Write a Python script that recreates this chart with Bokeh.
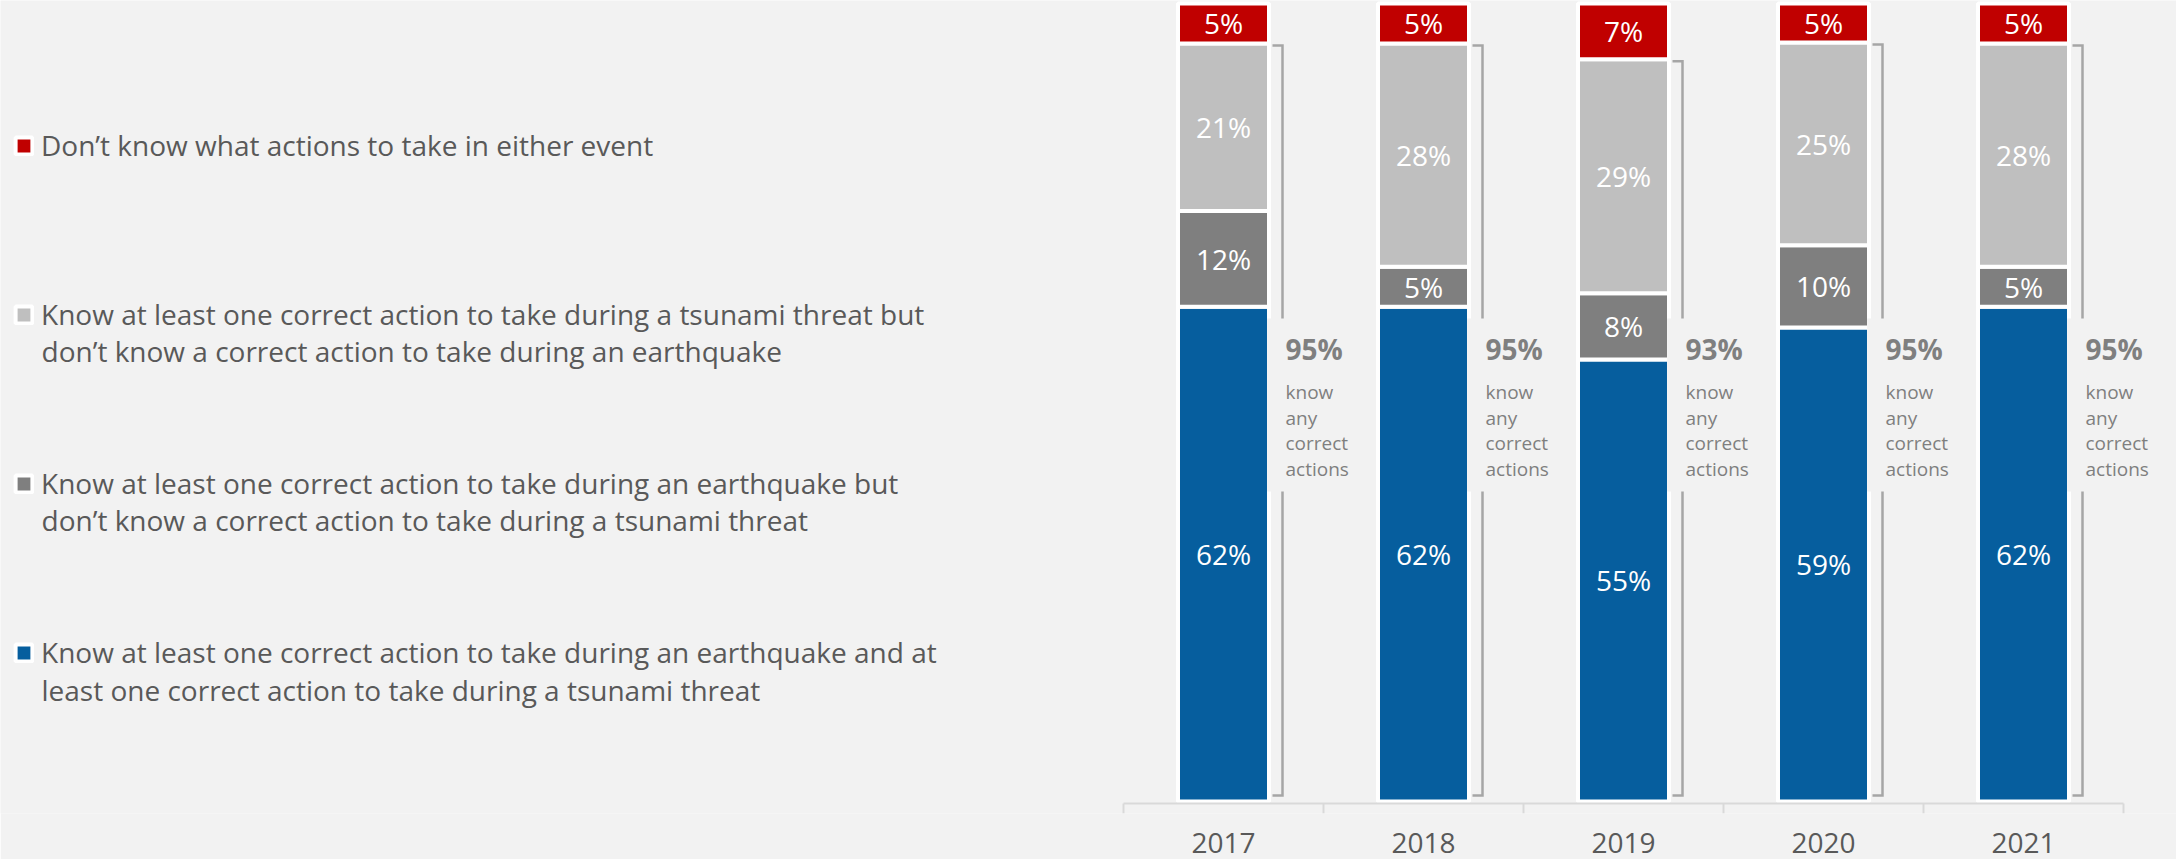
from bokeh.plotting import figure
from bokeh.models import ColumnDataSource, Range1d, FixedTicker, Legend, LegendItem
from bokeh.core.properties import value
from bokeh.embed import file_html
from bokeh.resources import INLINE

# ---------------- data ----------------
years = ["2017", "2018", "2019", "2020", "2021"]
both = [62.0, 62.0, 55.4, 59.4, 62.0]          # know for earthquake and tsunami
quake_only = [12.0, 5.0, 8.3, 10.3, 5.0]       # earthquake only
tsunami_only = [21.0, 28.0, 29.3, 25.4, 28.0]  # tsunami only
dont_know = [5.0, 5.0, 7.0, 4.9, 5.0]          # don't know either

series_keys = ["both", "quake_only", "tsunami_only", "dont_know"]
series_names = [
    "Know at least one correct action to take during an earthquake and at\nleast one correct action to take during a tsunami threat",
    "Know at least one correct action to take during an earthquake but\ndon\u2019t know a correct action to take during a tsunami threat",
    "Know at least one correct action to take during a tsunami threat but\ndon\u2019t know a correct action to take during an earthquake",
    "Don\u2019t know what actions to take in either event",
]
colors = ["#065e9e", "#7f7f7f", "#bfbfbf", "#c00000"]
summary_words = "know\nany\ncorrect\nactions"

FONT = "Open Sans"
BG = "#f2f2f2"
W, H = 2176, 859

idx = list(range(len(years)))
n = len(years)

# layout in pixels -> data coordinates
X0_PX, CAT_PX = 1123, 200           # left edge of first category, width of a category
Y0_PX, UNIT_PX, FRAME_H = 801, 7.98, 813


def xd(px):
    return -0.5 + (px - X0_PX) / CAT_PX


def yd(py):
    return (Y0_PX - py) / UNIT_PX


src = ColumnDataSource(dict(x=idx, both=both, quake_only=quake_only,
                            tsunami_only=tsunami_only, dont_know=dont_know))

p = figure(width=W, height=H, output_backend="svg", toolbar_location=None,
           x_range=Range1d(xd(0), xd(W)), y_range=Range1d(yd(FRAME_H), yd(0)),
           min_border_left=0, min_border_right=0, min_border_top=0,
           min_border_bottom=H - FRAME_H, y_axis_location=None)
p.background_fill_color = BG
p.border_fill_color = BG
p.outline_line_color = None
p.grid.visible = False

renderers = p.vbar_stack(series_keys, x="x", width=0.455, source=src,
                         fill_color=colors, line_color="white", line_width=4)

# category axis line and boundary ticks
axis_y = yd(803)
p.segment(x0=[-0.5], x1=[n - 0.5], y0=[axis_y], y1=[axis_y], line_color="#d9d9d9", line_width=2)
bounds = [i - 0.5 for i in range(n + 1)]
p.segment(x0=bounds, x1=bounds, y0=[axis_y] * (n + 1), y1=[yd(FRAME_H)] * (n + 1),
          line_color="#d9d9d9", line_width=2)

# segment labels
lx, ly, lt = [], [], []
for i in idx:
    base = 0.0
    for vals in (both, quake_only, tsunami_only, dont_know):
        v = vals[i]
        lx.append(i)
        ly.append(base + v / 2)
        lt.append(f"{v:.0f}%")
        base += v
p.text(x=lx, y=ly, text=lt, text_align="center", text_baseline="middle",
       text_color="white", text_font=value(FONT), text_font_size="28px")

# brackets for "know any correct actions"
totals = [b + q + t for b, q, t in zip(both, quake_only, tsunami_only)]
bx, by = [], []
for i, tot in zip(idx, totals):
    bx.append([i + 0.245, i + 0.295, i + 0.295, i + 0.245])
    by.append([tot - 0.25, tot - 0.25, 0.75, 0.75])
p.multi_line(xs=bx, ys=by, line_color="#a6a6a6", line_width=2.5, line_join="miter")

# background box behind summary text (hides bracket middle)
p.quad(left=[i + 0.2185 for i in idx], right=[i + 0.47 for i in idx],
       bottom=[yd(491)] * n, top=[yd(318)] * n, fill_color=BG, line_color=None)

p.text(x=[i + 0.31 for i in idx], y=[yd(348)] * n,
       text=[f"{t:.0f}%" for t in totals], text_align="left", text_baseline="middle",
       text_color="#7f7f7f", text_font=value(FONT), text_font_size="28px",
       text_font_style="bold")
p.text(x=[i + 0.31 for i in idx], y=[yd(430)] * n,
       text=[summary_words] * n, text_align="left", text_baseline="middle",
       text_color="#7f7f7f", text_font=value(FONT), text_font_size="19px",
       text_line_height=0.98)

# x axis (labels only)
ax = p.xaxis[0]
ax.ticker = FixedTicker(ticks=idx)
ax.major_label_overrides = {i: y for i, y in zip(idx, years)}
ax.axis_line_color = None
ax.major_tick_line_color = None
ax.minor_tick_line_color = None
ax.major_tick_out = 0
ax.major_tick_in = 0
ax.major_label_standoff = 19
ax.major_label_text_font = FONT
ax.major_label_text_font_size = "28px"
ax.major_label_text_color = "#595959"

# legend: first line of each series name next to its swatch, continuation lines as text
first_lines = [s.split("\n")[0] for s in series_names[::-1]]
rest_lines = [s.split("\n")[1] if "\n" in s else "" for s in series_names[::-1]]
items = [LegendItem(label=t, renderers=[r]) for t, r in zip(first_lines, renderers[::-1])]
legend = Legend(items=items, location=(13, FRAME_H - 671),
                border_line_color=None, background_fill_alpha=0,
                label_text_font=FONT, label_text_font_size="28px",
                label_text_color="#595959", label_text_line_height=1.0,
                glyph_width=21, glyph_height=21, label_standoff=7,
                spacing=131, padding=0, margin=0)
p.add_layout(legend)

first_line_px = [145, 313, 482, 652]
cont = [(t, py + 37) for t, py in zip(rest_lines, first_line_px) if t]
p.text(x=[xd(41)] * len(cont), y=[yd(py) for _, py in cont], text=[t for t, _ in cont],
       text_align="left", text_baseline="middle", text_color="#595959",
       text_font=value(FONT), text_font_size="28px")

open("out.html", "w").write(file_html(p, INLINE))
